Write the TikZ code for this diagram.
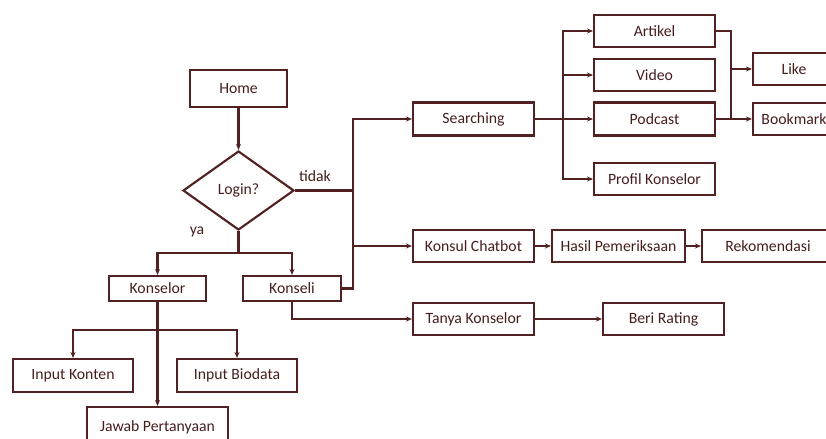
\documentclass[tikz,border=0pt]{standalone}
\usepackage{fontspec}
\setmainfont{Carlito}
\usetikzlibrary{shapes.geometric,arrows.meta}
\definecolor{brn}{RGB}{82,34,34}
\begin{document}
\begin{tikzpicture}[x=0.75pt,y=-0.75pt,
  every node/.style={font=\fontsize{11.8pt}{13pt}\selectfont, text=brn!85!black},
  box/.style={draw=brn, line width=1.6pt, rectangle, inner sep=0pt, minimum height={32*0.75pt}},
  dia/.style={draw=brn, line width=1.6pt, diamond, inner sep=0pt, minimum width={111*0.75pt}, minimum height={79*0.75pt}},
  ln/.style={draw=brn, line width=1.6pt},
  arr/.style={ln, -{Stealth[length=4.5pt,width=3.8pt]}}]
\useasboundingbox (0,0) rectangle (826,439);
% nodes
\node[box, minimum width={97*0.75pt}, minimum height={37*0.75pt}] (home) at (238.5,88.5) {Home};
\node[dia] (login) at (238.5,190.5) {Login?};
\node[box, minimum width={97*0.75pt}, minimum height={25*0.75pt}] (konselor) at (157.5,288.5) {Konselor};
\node[box, minimum width={98*0.75pt}, minimum height={25*0.75pt}] (konseli) at (292,288.5) {Konseli};
\node[box, minimum width={120*0.75pt}, minimum height={33*0.75pt}] (ikonten) at (73,375.5) {Input Konten};
\node[box, minimum width={120*0.75pt}, minimum height={33*0.75pt}] (ibio) at (237,375.5) {Input Biodata};
\node[box, minimum width={141*0.75pt}, minimum height={40*0.75pt}] (jawab) at (157.5,427) {Jawab Pertanyaan};
\node[box, minimum width={121*0.75pt}, minimum height={33*0.75pt}] (search) at (473.5,119) {Searching};
\node[box, minimum width={121*0.75pt}] (artikel) at (654.5,31) {Artikel};
\node[box, minimum width={121*0.75pt}] (video) at (654.5,75) {Video};
\node[box, minimum width={121*0.75pt}, minimum height={33*0.75pt}] (podcast) at (654.5,119) {Podcast};
\node[box, minimum width={121*0.75pt}] (profil) at (654.5,179) {Profil Konselor};
\node[box, minimum width={82*0.75pt}] (like) at (794,69) {Like};
\node[box, minimum width={82*0.75pt}] (bookmark) at (794,119) {Bookmark};
\node[box, minimum width={121*0.75pt}] (chatbot) at (473.5,246) {Konsul Chatbot};
\node[box, minimum width={133*0.75pt}] (hasil) at (618.5,246) {Hasil Pemeriksaan};
\node[box, minimum width={132*0.75pt}] (rekom) at (768,246) {Rekomendasi};
\node[box, minimum width={121*0.75pt}] (tanya) at (473.5,319) {Tanya Konselor};
\node[box, minimum width={121*0.75pt}] (rating) at (663.5,319) {Beri Rating};
\node (tidak) at (315,176) {tidak};
\node (ya) at (197,232) {ya};
% coordinates
\coordinate (bx) at (353,0);
\coordinate (bx2) at (563,0);
\coordinate (bx3) at (731,0);
\coordinate (j1) at (238.5,253);
\coordinate (j2) at (157.5,330);
% connectors
\draw[arr] (home) -- (login);
\draw[ln] (login.east) -- (login.east -| bx);
\draw[arr] (konseli.east) -- (konseli.east -| bx) |- (search.west);
\draw[arr] (login.east -| bx) |- (chatbot.west);
\draw[ln] (login.south) -- (j1);
\draw[arr] (j1) -| (konselor.north);
\draw[arr] (j1) -| (konseli.north);
\draw[arr] (konseli.south) |- (tanya.west);
\draw[arr] (tanya) -- (rating);
\draw[arr] (chatbot) -- (hasil);
\draw[arr] (hasil) -- (rekom);
\draw[arr] (konselor) -- (jawab);
\draw[arr] (j2) -| (ikonten.north);
\draw[arr] (j2) -| (ibio.north);
\draw[arr] (search) -- (podcast);
\draw[arr] (search.east -| bx2) |- (artikel.west);
\draw[arr] (search.east -| bx2) |- (video.west);
\draw[arr] (search.east -| bx2) |- (profil.west);
\draw[ln] (artikel.east) -| (podcast.east -| bx3);
\draw[arr] (podcast.east) -- (bookmark.west);
\draw[arr] (like.west -| bx3) -- (like.west);
\end{tikzpicture}
\end{document}
